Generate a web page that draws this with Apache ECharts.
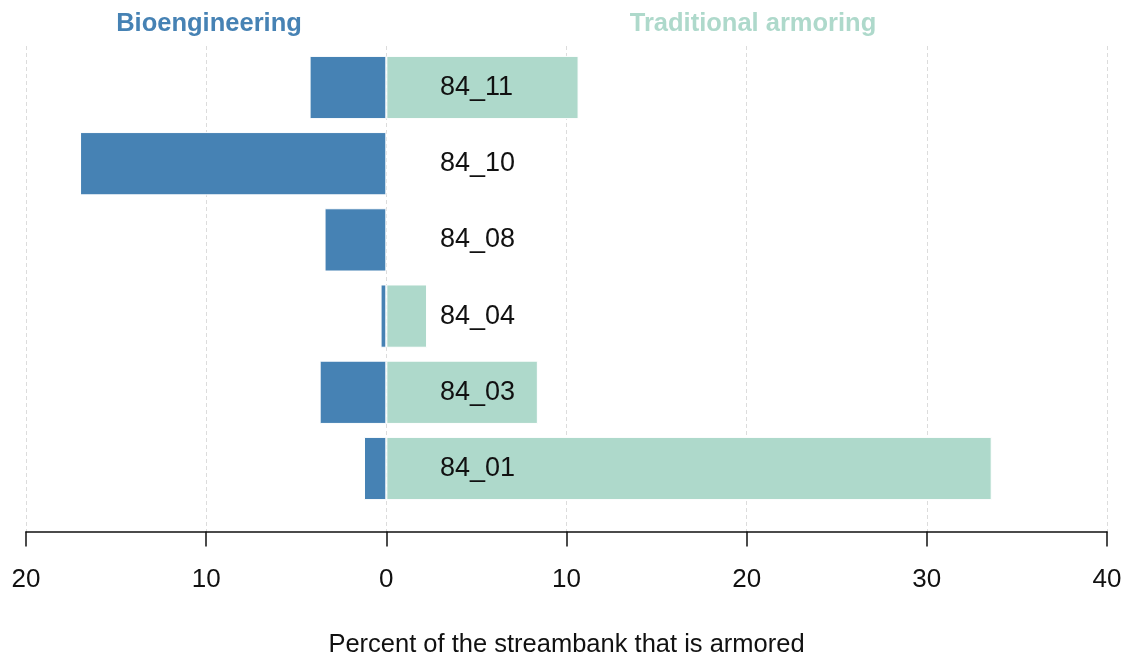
<!DOCTYPE html>
<html>
<head>
<meta charset="utf-8">
<title>Streambank armoring by reach</title>
<script src="https://cdn.jsdelivr.net/npm/echarts@6/dist/echarts.min.js"></script>
<style>
  html, body { margin: 0; padding: 0; background: #fff; }
  #chart { width: 1127px; height: 659px; }
</style>
</head>
<body>
<div id="chart"></div>
<script>
// Reaches, listed top to bottom
const reaches = ['84_11', '84_10', '84_08', '84_04', '84_03', '84_01'];
// Percent of streambank armored with bioengineering (drawn to the left of zero)
const bioengineering = [4.26, 17.0, 3.43, 0.32, 3.70, 1.24];
// Percent of streambank armored with traditional armoring (drawn to the right)
const traditional = [10.67, 0, 0, 2.26, 8.41, 33.6];
// Axis ticks
const tickMin = -20, tickMax = 40, tickStep = 10;

const BLUE = '#4682b4';
const GREEN = '#aed9cb';
const FONT = '"Liberation Sans", Arial, sans-serif';

const chart = echarts.init(document.getElementById('chart'), null, { renderer: 'canvas' });

chart.setOption({
  backgroundColor: '#ffffff',
  animation: false,
  textStyle: { fontFamily: FONT },
  title: [
    {
      text: 'Bioengineering',
      left: 204, top: 6, textAlign: 'center',
      textStyle: { color: BLUE, fontWeight: 'bold', fontSize: 25.5, fontFamily: FONT }
    },
    {
      text: 'Traditional armoring',
      left: 748, top: 6, textAlign: 'center',
      textStyle: { color: GREEN, fontWeight: 'bold', fontSize: 25.5, fontFamily: FONT }
    }
  ],
  grid: [
    // bars
    { left: 26, right: 20, top: 49.4, bottom: 152.4, outerBoundsMode: 'none', containLabel: false },
    // frame for gridlines and the bottom axis
    { left: 26, right: 20, top: 46, bottom: 127.5, outerBoundsMode: 'none', containLabel: false }
  ],
  xAxis: [
    {
      type: 'value', gridIndex: 0,
      min: tickMin, max: tickMax, interval: tickStep,
      show: false
    },
    {
      type: 'value', gridIndex: 1,
      min: tickMin, max: tickMax, interval: tickStep,
      position: 'bottom',
      name: 'Percent of the streambank that is armored',
      nameLocation: 'middle',
      nameGap: 100,
      nameTextStyle: { color: '#111', fontSize: 25.5, fontFamily: FONT },
      axisLine: { show: true, onZero: false, lineStyle: { color: '#111', width: 1.5 } },
      axisTick: { show: true, length: 15, lineStyle: { color: '#111', width: 1.5 } },
      axisLabel: {
        color: '#111', fontSize: 26, margin: 35, fontFamily: FONT,
        formatter: v => String(Math.abs(v))
      },
      splitLine: { show: true, lineStyle: { color: '#dcdcdc', type: [4, 3], width: 1 } }
    }
  ],
  yAxis: [
    {
      type: 'category', gridIndex: 0,
      data: reaches,
      inverse: true,
      axisLine: { show: false },
      axisTick: { show: false },
      splitLine: { show: false },
      axisLabel: {
        show: true, align: 'left', margin: -414,
        color: '#111', fontSize: 27, fontFamily: FONT,
        padding: [4, 0, 0, 0]
      },
      z: 10
    },
    {
      type: 'value', gridIndex: 1, min: 0, max: 1,
      show: false
    }
  ],
  series: [
    {
      name: 'Bioengineering',
      type: 'bar', xAxisIndex: 0, yAxisIndex: 0,
      stack: 'armor',
      data: bioengineering.map(v => -v),
      barCategoryGap: '17%',
      itemStyle: { color: BLUE, borderColor: '#ffffff', borderWidth: 1 }
    },
    {
      name: 'Traditional armoring',
      type: 'bar', xAxisIndex: 0, yAxisIndex: 0,
      stack: 'armor',
      data: traditional,
      barCategoryGap: '17%',
      itemStyle: { color: GREEN, borderColor: '#ffffff', borderWidth: 1 }
    }
  ]
});
</script>
</body>
</html>
